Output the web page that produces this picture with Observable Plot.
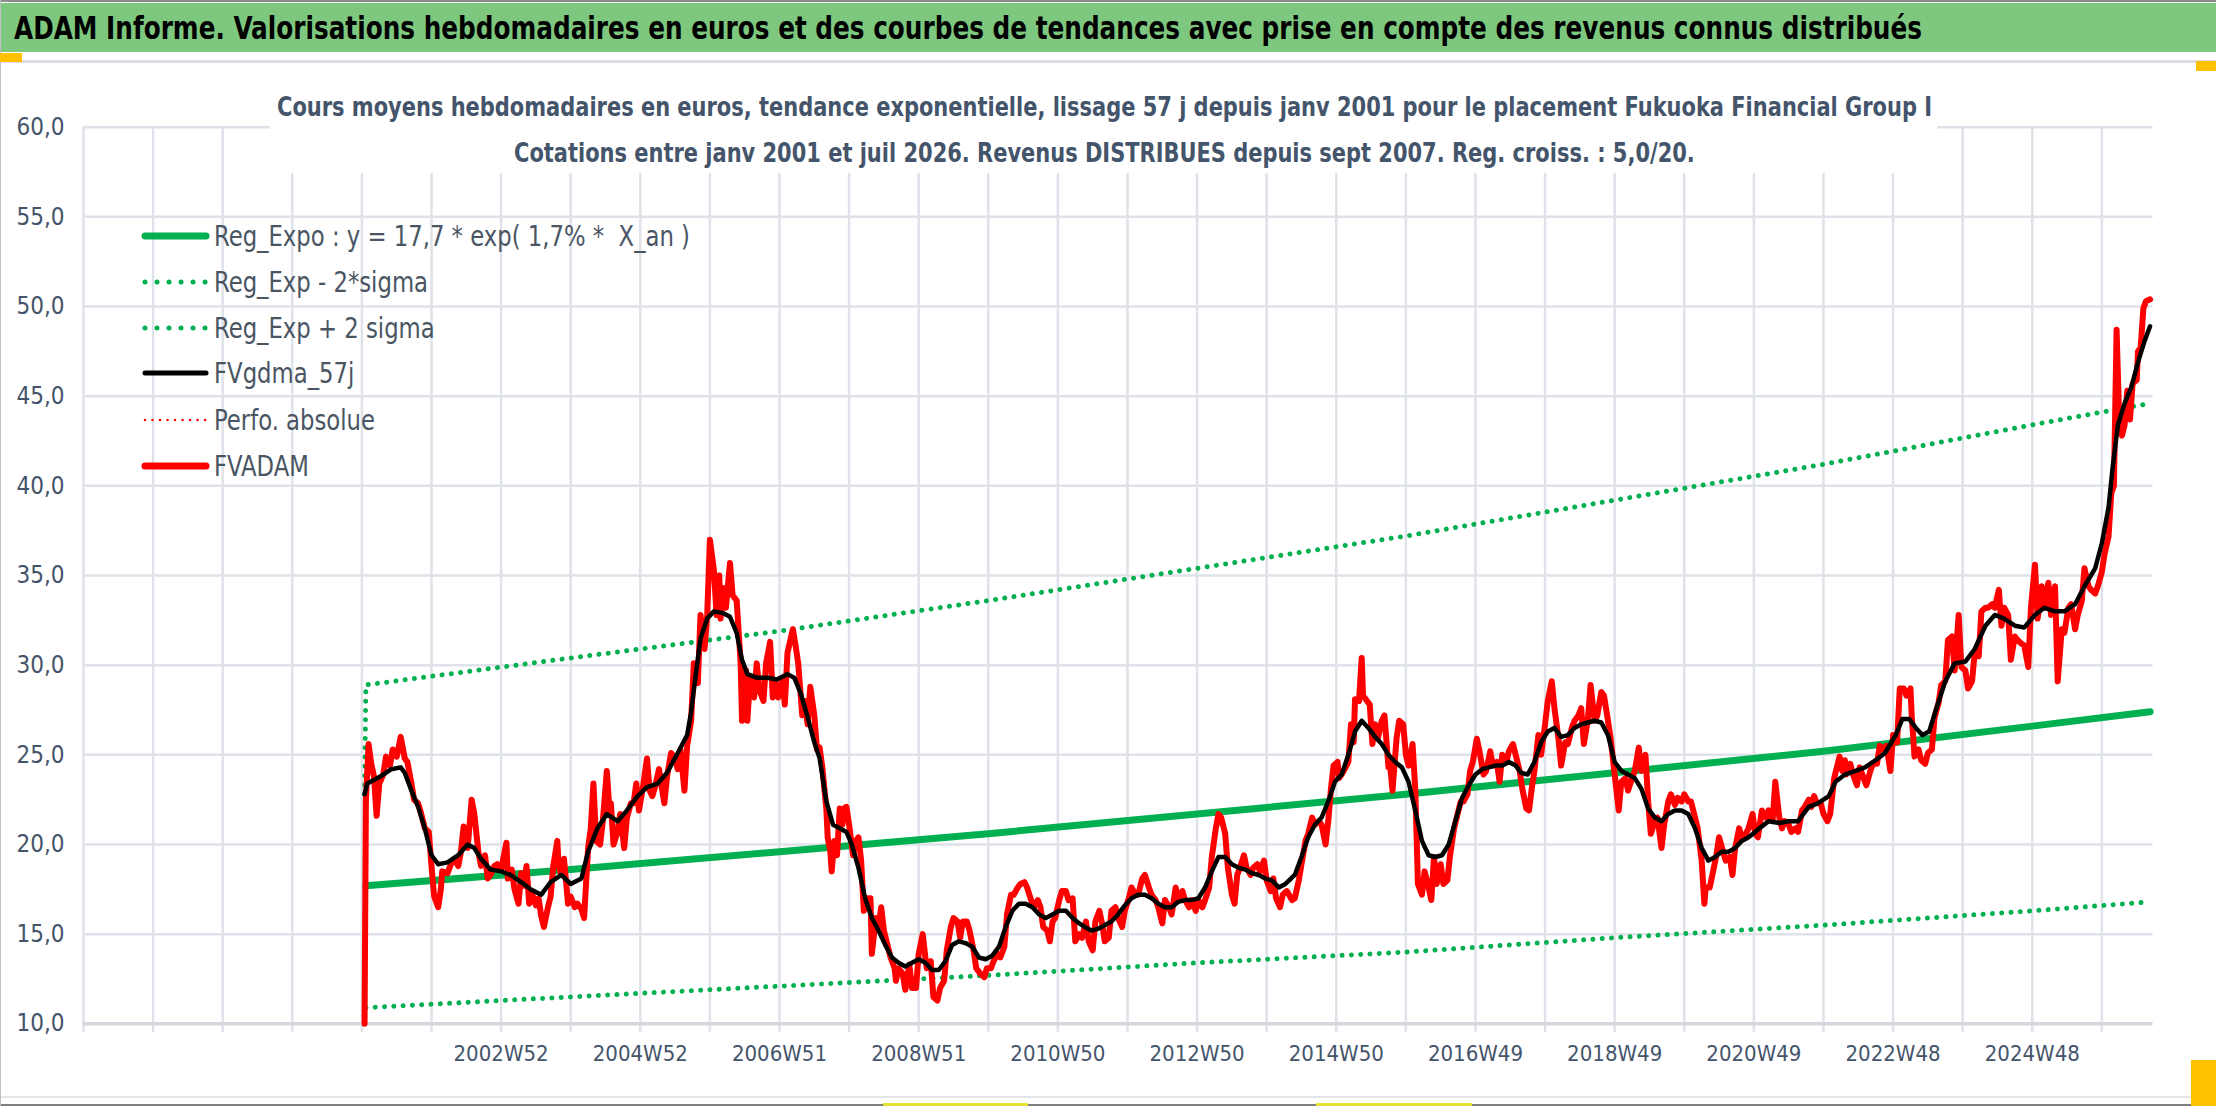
<!DOCTYPE html>
<html><head><meta charset="utf-8">
<script src="https://cdn.jsdelivr.net/npm/d3@7"></script>
<script src="https://cdn.jsdelivr.net/npm/@observablehq/plot@0.6"></script>
<style>
body{margin:0;background:#fff;}
#wrap{position:relative;width:2216px;height:1106px;overflow:hidden;background:#fff;font-family:"DejaVu Sans Condensed","Liberation Sans Narrow","Open Sans",sans-serif;}
.abs{position:absolute;}
.txt{position:absolute;white-space:pre;line-height:1;transform-origin:0 50%;}
#chart{position:absolute;left:0;top:0;z-index:1;}
</style></head>
<body>
<div id="wrap">
  <div class="abs" style="left:0;top:0;width:2216px;height:2px;background:#8c8c8c;z-index:3"></div>
  <div class="abs" style="left:0;top:3px;width:2216px;height:49px;background:#7dc87e;z-index:3"></div>
  <div class="abs" style="left:0;top:60px;width:2216px;height:3px;background:#dcdfe4;z-index:3"></div>
  <div class="abs" style="left:0;top:53px;width:22px;height:9px;background:#ffc000;z-index:4"></div>
  <div class="abs" style="left:2196px;top:61px;width:20px;height:10px;background:#ffc000;z-index:4"></div>
  <div class="abs" style="left:2191px;top:1060px;width:25px;height:46px;background:#ffc000;z-index:4"></div>
  <div class="abs" style="left:0;top:1096px;width:2216px;height:2px;background:#e3e5e9;z-index:3"></div>
  <div class="abs" style="left:883px;top:1103px;width:145px;height:3px;background:#e6e030;z-index:4"></div>
  <div class="abs" style="left:1316px;top:1103px;width:156px;height:3px;background:#e6e030;z-index:4"></div>
  <div class="abs" style="left:0;top:1104px;width:2216px;height:2px;background:#7f7f7f;z-index:3"></div>
  <div class="abs" style="left:0;top:0;width:1px;height:1106px;background:#bfbfbf;z-index:3"></div>
  <div id="title" class="txt" style="left:14px;top:10px;font-weight:bold;font-size:32px;color:#000;z-index:5">ADAM Informe. Valorisations hebdomadaires en euros et des courbes de tendances avec prise en compte des revenus connus distribués</div>
  <div class="abs" style="left:270px;top:80px;width:1667px;height:93px;background:#fff;z-index:2"></div>
  <div id="sub1" class="txt" style="font-weight:bold;font-size:27px;color:#44546a;z-index:5">Cours moyens hebdomadaires en euros, tendance exponentielle, lissage 57 j depuis janv 2001 pour le placement Fukuoka Financial Group I</div>
  <div id="sub2" class="txt" style="font-weight:bold;font-size:27px;color:#44546a;z-index:5">Cotations entre janv 2001 et juil 2026. Revenus DISTRIBUES depuis sept 2007. Reg. croiss. : 5,0/20.</div>
  <div id="legend" class="abs" style="left:0;top:0;z-index:5"></div>
  <div id="chart"></div>
</div>
<script>
// ---------- data ----------
const yTicks = [10, 15, 20, 25, 30, 35, 40, 45, 50, 55, 60];
const xGridWeeks = d3.range(0, 1509, 52);
const xLabelWeeks = [312, 416, 520, 624, 728, 832, 936, 1040, 1144, 1248, 1352, 1456];
const xLabels = ["2002W52","2004W52","2006W51","2008W51","2010W50","2012W50","2014W50","2016W49","2018W49","2020W49","2022W48","2024W48"];

const trendWeeks = [211, 364, 520, 676, 832, 988, 1144, 1300, 1456, 1544];
const regExpo = [17.7, 18.6, 19.6, 20.6, 21.7, 22.8, 24.0, 25.2, 26.6, 27.4];
const regLower = [10.9, 11.5, 12.1, 12.7, 13.4, 14.0, 14.8, 15.5, 16.3, 16.8];
const upperWeeks = [210, 211, 364, 520, 676, 832, 988, 1144, 1300, 1456, 1544];
const regUpper = [22.8, 28.9, 30.4, 31.9, 33.6, 35.4, 37.2, 39.2, 41.2, 43.4, 44.6];

const fvadam = [[210,10.0],[211,22.5],[213,25.6],[215,24.5],[217,23.8],[219,21.6],[221,23.4],[224,23.9],[226,24.9],[229,24.4],[231,25.3],[234,24.9],[237,26.0],[240,24.8],[242,24.6],[245,23.4],[247,22.5],[250,22.3],[252,21.8],[255,20.9],[258,20.7],[260,18.8],[262,17.1],[265,16.5],[267,17.5],[268,18.5],[272,18.4],[275,19.0],[277,19.2],[280,18.8],[282,19.6],[284,21.0],[287,19.8],[288,20.7],[290,22.5],[292,21.7],[295,19.6],[297,18.8],[300,19.4],[302,18.1],[304,18.3],[307,18.8],[309,18.9],[312,18.6],[316,20.1],[317,18.1],[320,18.6],[322,17.5],[325,16.7],[327,18.4],[329,17.7],[331,18.8],[333,16.7],[335,17.3],[338,16.6],[340,17.0],[342,16.0],[344,15.4],[347,16.5],[349,17.1],[351,18.8],[354,20.2],[355,18.8],[357,18.3],[359,19.2],[362,16.7],[364,17.1],[367,16.5],[369,16.7],[372,16.4],[374,15.9],[377,19.8],[379,20.9],[381,23.4],[383,20.2],[386,20.0],[388,21.3],[391,24.1],[393,21.9],[394,22.3],[396,20.0],[399,20.7],[401,21.7],[404,19.8],[406,21.5],[409,22.3],[411,22.3],[413,23.4],[415,21.9],[418,23.2],[421,24.8],[423,23.0],[425,22.7],[427,23.2],[430,24.2],[432,23.2],[434,22.3],[436,23.8],[439,25.1],[442,24.8],[444,24.2],[446,25.3],[449,23.0],[451,25.5],[454,26.9],[456,30.1],[459,29.0],[461,32.8],[464,30.9],[466,32.8],[468,37.0],[471,35.3],[473,32.8],[475,35.0],[476,32.6],[478,34.3],[480,33.2],[483,35.7],[485,33.9],[488,33.6],[491,30.1],[492,26.9],[495,29.7],[496,26.9],[498,29.3],[501,28.2],[503,30.1],[505,28.6],[508,28.0],[510,30.1],[513,31.3],[515,28.2],[517,29.0],[519,28.2],[522,29.2],[524,27.8],[526,30.7],[530,32.0],[532,31.1],[534,30.1],[537,27.2],[539,28.0],[541,26.7],[543,28.8],[546,27.2],[548,25.3],[550,25.4],[552,24.3],[555,22.0],[556,20.4],[558,19.6],[559,18.5],[561,20.2],[563,19.4],[565,22.0],[567,21.1],[568,22.0],[570,22.1],[572,21.1],[575,19.4],[577,20.2],[579,20.4],[581,19.1],[583,16.3],[586,17.0],[588,17.0],[589,13.9],[592,15.9],[594,15.4],[596,16.5],[598,15.2],[601,14.3],[603,13.7],[606,13.1],[607,12.4],[609,13.1],[612,12.8],[614,11.9],[617,13.3],[619,12.0],[622,12.0],[624,13.9],[627,15.0],[629,13.7],[630,13.1],[633,13.5],[635,11.5],[638,11.3],[640,12.0],[643,12.4],[645,14.1],[648,15.4],[650,15.9],[653,15.7],[655,14.8],[657,15.7],[660,15.7],[662,15.2],[665,14.1],[667,13.1],[670,12.8],[673,12.6],[675,13.1],[678,13.1],[680,13.5],[683,13.9],[685,13.7],[688,14.3],[690,16.1],[693,17.2],[695,17.2],[698,17.6],[700,17.8],[703,17.9],[705,17.6],[708,16.9],[710,16.5],[713,16.9],[715,16.5],[717,15.4],[720,15.2],[722,14.6],[724,15.7],[726,15.9],[729,16.9],[731,17.4],[734,17.4],[736,16.9],[739,17.0],[741,14.6],[744,15.0],[746,14.8],[749,15.7],[751,14.6],[754,14.1],[756,15.7],[759,16.3],[761,15.6],[763,14.6],[766,14.8],[768,16.3],[771,16.5],[773,15.9],[776,15.4],[778,16.3],[781,17.0],[783,17.6],[786,17.2],[788,17.2],[791,18.1],[793,18.3],[796,17.6],[798,17.2],[801,16.9],[803,16.5],[806,15.6],[808,16.9],[811,16.5],[813,16.1],[816,17.6],[818,16.9],[821,17.4],[823,16.9],[826,16.5],[828,16.9],[831,16.3],[833,16.9],[836,16.5],[838,16.9],[841,17.6],[843,19.3],[846,20.9],[848,21.7],[850,21.5],[853,20.6],[855,18.7],[858,17.2],[860,16.7],[862,18.3],[864,18.7],[867,19.4],[869,18.7],[872,18.3],[874,18.7],[877,18.9],[879,18.5],[882,19.1],[884,18.0],[887,17.4],[889,18.1],[891,17.0],[894,16.5],[896,17.2],[899,17.4],[903,16.9],[905,17.0],[908,18.0],[910,18.9],[913,20.2],[915,20.6],[918,21.5],[920,21.1],[923,21.3],[925,21.1],[928,20.0],[930,21.3],[932,23.1],[934,24.4],[937,24.6],[938,23.7],[940,23.9],[943,24.3],[945,24.6],[947,26.7],[949,25.7],[950,28.1],[953,28.0],[955,30.4],[956,28.3],[958,28.1],[961,27.8],[963,25.6],[965,26.7],[967,25.9],[970,26.9],[972,27.2],[975,24.3],[976,24.6],[978,23.0],[981,25.9],[983,26.9],[986,26.7],[988,25.0],[990,24.4],[993,25.6],[995,23.1],[997,17.8],[1000,17.2],[1002,18.5],[1005,17.6],[1007,16.9],[1009,19.3],[1011,17.8],[1014,18.9],[1016,17.8],[1019,18.0],[1021,19.4],[1024,20.9],[1026,21.5],[1029,22.4],[1031,22.4],[1034,22.8],[1036,24.1],[1038,24.6],[1041,25.9],[1043,25.2],[1046,23.9],[1048,24.1],[1051,25.2],[1053,24.4],[1056,24.6],[1058,23.5],[1060,25.0],[1063,24.6],[1065,25.2],[1068,25.6],[1070,25.0],[1073,24.1],[1075,23.1],[1078,22.0],[1080,21.9],[1082,23.1],[1084,24.1],[1087,26.1],[1089,25.0],[1092,26.7],[1094,28.0],[1097,29.1],[1099,27.6],[1102,25.9],[1104,24.4],[1107,25.7],[1109,25.6],[1112,26.5],[1114,26.9],[1117,27.2],[1119,27.6],[1121,25.6],[1124,27.0],[1126,28.9],[1129,26.9],[1131,27.2],[1134,28.5],[1136,28.3],[1139,26.9],[1141,25.9],[1144,23.9],[1147,21.9],[1149,23.5],[1152,23.7],[1154,23.0],[1157,23.7],[1159,24.1],[1162,25.4],[1164,24.1],[1167,25.0],[1169,22.4],[1171,20.6],[1174,21.3],[1176,21.5],[1179,19.8],[1181,21.1],[1184,22.4],[1186,22.8],[1189,22.2],[1191,22.6],[1194,22.4],[1196,22.8],[1199,22.4],[1201,22.4],[1204,21.5],[1206,20.9],[1209,19.1],[1211,16.7],[1212,17.6],[1215,17.6],[1217,18.3],[1220,19.4],[1222,20.4],[1225,19.6],[1227,19.1],[1230,19.3],[1232,18.3],[1234,19.8],[1237,20.9],[1239,20.4],[1242,20.6],[1244,20.9],[1247,21.7],[1249,20.6],[1251,20.4],[1254,21.9],[1257,21.5],[1259,21.9],[1262,21.3],[1264,23.5],[1267,21.5],[1269,20.9],[1271,21.3],[1274,21.1],[1276,20.7],[1279,20.9],[1281,20.7],[1284,21.9],[1286,22.1],[1289,22.5],[1291,22.1],[1293,22.7],[1295,22.3],[1298,22.3],[1300,21.7],[1303,21.3],[1305,21.7],[1308,23.7],[1310,24.3],[1312,24.9],[1314,24.1],[1316,24.7],[1317,23.9],[1320,24.5],[1322,23.9],[1325,23.3],[1327,24.3],[1330,23.7],[1332,23.3],[1335,24.1],[1337,24.5],[1340,24.5],[1342,25.5],[1345,25.3],[1347,25.5],[1350,24.1],[1352,26.1],[1355,25.7],[1357,28.7],[1360,28.7],[1362,28.3],[1365,28.7],[1366,27.1],[1368,24.9],[1371,25.3],[1373,24.7],[1376,24.5],[1378,25.1],[1381,25.3],[1383,27.1],[1386,27.9],[1388,28.9],[1391,29.1],[1393,31.4],[1396,31.6],[1398,29.7],[1401,32.8],[1403,29.9],[1406,29.7],[1408,28.7],[1411,29.1],[1413,30.7],[1416,30.5],[1418,33.0],[1421,33.2],[1423,33.2],[1426,33.4],[1428,33.2],[1431,34.2],[1433,32.2],[1435,33.2],[1438,32.8],[1440,30.3],[1443,31.6],[1445,31.4],[1448,31.2],[1450,31.1],[1453,29.9],[1455,33.2],[1458,35.6],[1460,32.6],[1463,34.4],[1465,33.2],[1468,34.6],[1470,32.8],[1473,34.4],[1475,29.1],[1478,32.0],[1480,31.8],[1483,33.2],[1485,33.4],[1488,32.0],[1490,32.8],[1493,33.6],[1495,35.4],[1498,34.4],[1500,34.2],[1503,34.0],[1505,34.4],[1508,35.2],[1510,36.2],[1513,37.2],[1515,39.6],[1517,40.0],[1519,48.7],[1521,43.6],[1523,42.8],[1525,43.4],[1527,45.3],[1529,43.7],[1531,45.7],[1534,45.9],[1535,47.5],[1537,47.7],[1539,49.9],[1541,50.3],[1544,50.4]];

const fvgdma57 = [[210,22.8],[212,23.4],[217,23.6],[222,23.8],[230,24.2],[237,24.3],[240,24.0],[245,23.0],[250,22.1],[255,20.9],[260,19.4],[265,18.9],[272,19.0],[280,19.4],[287,20.0],[292,19.8],[297,19.2],[304,18.6],[312,18.5],[319,18.3],[327,17.9],[334,17.5],[342,17.2],[349,17.9],[357,18.3],[364,17.8],[372,18.1],[377,19.6],[384,20.9],[391,21.7],[399,21.3],[406,21.9],[414,22.7],[421,23.2],[429,23.4],[436,24.0],[444,25.1],[451,26.1],[454,27.4],[457,29.2],[461,31.5],[466,32.6],[471,33.0],[478,32.9],[483,32.7],[488,31.8],[492,30.3],[496,29.5],[503,29.3],[511,29.3],[518,29.2],[526,29.5],[531,29.3],[536,28.4],[541,27.1],[546,25.7],[550,24.8],[555,22.4],[560,21.1],[565,20.9],[570,20.7],[574,20.0],[579,18.7],[584,17.0],[589,15.9],[594,15.2],[599,14.4],[604,13.7],[609,13.4],[614,13.2],[619,13.4],[624,13.6],[629,13.4],[634,13.0],[639,13.0],[644,13.5],[649,14.4],[654,14.6],[659,14.5],[664,14.3],[669,13.7],[674,13.6],[679,13.8],[684,14.3],[689,15.4],[694,16.3],[699,16.7],[704,16.7],[709,16.5],[714,16.1],[719,15.9],[724,16.1],[729,16.3],[734,16.3],[739,15.9],[744,15.6],[748,15.4],[753,15.2],[758,15.3],[763,15.5],[768,15.7],[773,16.1],[778,16.6],[783,17.0],[788,17.2],[793,17.2],[798,17.0],[803,16.7],[808,16.5],[813,16.5],[818,16.8],[823,16.9],[828,16.9],[833,17.0],[838,17.6],[843,18.5],[848,19.3],[853,19.3],[858,18.9],[863,18.7],[868,18.6],[873,18.4],[878,18.3],[883,18.1],[888,18.0],[893,17.6],[898,17.8],[905,18.3],[910,19.3],[915,20.4],[920,21.1],[925,21.5],[930,22.4],[935,23.5],[940,23.9],[945,25.0],[950,26.3],[955,26.9],[960,26.5],[965,26.0],[970,25.6],[975,25.0],[980,24.6],[985,24.3],[990,23.5],[995,21.9],[1000,20.2],[1005,19.4],[1010,19.3],[1015,19.4],[1020,20.0],[1025,21.3],[1030,22.6],[1035,23.3],[1040,23.9],[1045,24.2],[1050,24.3],[1055,24.4],[1060,24.4],[1065,24.6],[1070,24.4],[1074,24.0],[1079,23.9],[1084,24.6],[1089,25.7],[1094,26.3],[1099,26.5],[1104,26.0],[1109,26.1],[1114,26.5],[1119,26.7],[1124,26.8],[1129,26.9],[1134,26.8],[1139,26.1],[1144,24.6],[1149,24.1],[1154,23.9],[1159,23.7],[1164,23.1],[1169,22.0],[1174,21.5],[1179,21.3],[1184,21.7],[1189,21.9],[1194,21.9],[1199,21.7],[1204,20.9],[1209,19.8],[1214,19.1],[1219,19.3],[1224,19.6],[1229,19.6],[1234,19.8],[1239,20.2],[1244,20.4],[1249,20.7],[1252,20.9],[1259,21.3],[1267,21.2],[1274,21.3],[1281,21.3],[1289,22.1],[1296,22.3],[1304,22.7],[1309,23.5],[1316,23.9],[1324,24.1],[1331,24.3],[1339,24.7],[1346,25.1],[1354,26.1],[1359,27.0],[1364,27.0],[1369,26.5],[1374,26.1],[1379,26.3],[1384,27.5],[1391,29.1],[1398,30.1],[1406,30.2],[1413,30.9],[1421,32.2],[1428,32.8],[1435,32.6],[1443,32.2],[1450,32.1],[1458,32.8],[1465,33.2],[1473,33.0],[1480,33.0],[1488,33.4],[1495,34.4],[1503,35.4],[1508,36.8],[1513,38.8],[1516,41.0],[1520,43.4],[1525,44.6],[1530,45.5],[1535,46.9],[1540,48.1],[1544,48.9]];

const legendItems = [
  {label: "Reg_Expo : y = 17,7 * exp( 1,7% *  X_an )", color: "#00b050", width: 7, dash: null},
  {label: "Reg_Exp - 2*sigma", color: "#00b050", width: 5, dash: "0.01 12"},
  {label: "Reg_Exp + 2 sigma", color: "#00b050", width: 5, dash: "0.01 12"},
  {label: "FVgdma_57j", color: "#000000", width: 5, dash: null},
  {label: "Perfo. absolue", color: "#ff0000", width: 2.5, dash: "0.01 7.5"},
  {label: "FVADAM", color: "#ff0000", width: 7, dash: null}
];

// ---------- layout ----------
const FONT = '"DejaVu Sans Condensed","Liberation Sans Narrow","Open Sans",sans-serif';
const TEXT = "#44546a";
const GRID = "#dfe2e8";
const fmtY = d => d.toFixed(1).replace(".", ",");
const labelOf = new Map(xLabelWeeks.map((w, i) => [w, xLabels[i]]));

const chart = Plot.plot({
  width: 2216, height: 1106,
  marginLeft: 83, marginRight: 63.5, marginTop: 126.7, marginBottom: 82.7,
  style: {background: "transparent", fontFamily: FONT, fontSize: "23px", color: TEXT, overflow: "visible"},
  x: {domain: [0, 1546.2], axis: null},
  y: {domain: [10, 60], axis: null},
  marks: [
    Plot.ruleY(yTicks.filter(d => d > 10), {y: d => d, stroke: GRID, strokeWidth: 2.5, strokeOpacity: 1}),
    Plot.ruleX(xGridWeeks, {x: d => d, stroke: GRID, strokeWidth: 2.5, strokeOpacity: 1, insetBottom: -9}),
    Plot.ruleY([10], {y: d => d, stroke: "#d4d7dd", strokeWidth: 3.5, strokeOpacity: 1}),
    Plot.axisY(yTicks, {tickFormat: fmtY, tickSize: 0, tickPadding: 19, fontSize: 24, fill: TEXT, label: null}),
    Plot.axisX(xLabelWeeks, {tickFormat: d => labelOf.get(d), tickSize: 0, tickPadding: 22, fontSize: 22, fill: TEXT, label: null}),
    Plot.line(trendWeeks, {x: d => d, y: (d, i) => regLower[i], stroke: "#00b050", strokeWidth: 5, strokeDasharray: "0.01 9.3", strokeLinecap: "round"}),
    Plot.line(upperWeeks, {x: d => d, y: (d, i) => regUpper[i], stroke: "#00b050", strokeWidth: 5, strokeDasharray: "0.01 9.3", strokeLinecap: "round"}),
    Plot.line(trendWeeks, {x: d => d, y: (d, i) => regExpo[i], stroke: "#00b050", strokeWidth: 7}),
    Plot.line(fvadam, {x: d => d[0], y: d => d[1], stroke: "#ff0000", strokeWidth: 6, strokeLinejoin: "round"}),
    Plot.line(fvgdma57, {x: d => d[0], y: d => d[1], stroke: "#000000", strokeWidth: 4.5, strokeLinejoin: "round"})
  ]
});
document.getElementById("chart").appendChild(chart);

// legend (HTML)
const legend = document.getElementById("legend");
const rowY = [236, 282, 328, 373, 420, 466];
const legendLabels = [];
legendItems.forEach((it, i) => {
  const s = document.createElementNS("http://www.w3.org/2000/svg", "svg");
  s.setAttribute("width", 70); s.setAttribute("height", 14);
  s.style.position = "absolute"; s.style.left = "140px"; s.style.top = (rowY[i] - 7) + "px";
  const l = document.createElementNS("http://www.w3.org/2000/svg", "line");
  l.setAttribute("x1", 5); l.setAttribute("x2", 66); l.setAttribute("y1", 7); l.setAttribute("y2", 7);
  l.setAttribute("stroke", it.color); l.setAttribute("stroke-width", it.width);
  l.setAttribute("stroke-linecap", "round");
  if (it.dash) l.setAttribute("stroke-dasharray", it.dash);
  s.appendChild(l); legend.appendChild(s);
  const t = document.createElement("div");
  t.className = "txt"; t.textContent = it.label;
  t.style.left = "214px"; t.style.fontSize = "28px"; t.style.color = "#4a5563";
  legend.appendChild(t); legendLabels.push(t);
});

// squeeze text horizontally to the reference widths while keeping its height
function squeeze(el, target) {
  const w = el.getBoundingClientRect().width;
  const k = target / w;
  el.style.transform = "scaleX(" + k + ")";
  return k;
}
function placeY(el, cy) {
  const h = el.getBoundingClientRect().height;
  el.style.top = (cy - h / 2) + "px";
}
const title = document.getElementById("title");
squeeze(title, 1908); placeY(title, 28);
const sub1 = document.getElementById("sub1"), sub2 = document.getElementById("sub2");
const k1 = squeeze(sub1, 1655);
const w2 = sub2.getBoundingClientRect().width;
sub2.style.transform = "scaleX(" + k1 + ")";
sub1.style.left = (1104 - 1655 / 2) + "px";
sub2.style.left = (1104 - w2 * k1 / 2) + "px";
placeY(sub1, 106); placeY(sub2, 152);
const kl = squeeze(legendLabels[0], 476);
legendLabels.forEach((t, i) => { t.style.transform = "scaleX(" + kl + ")"; placeY(t, rowY[i] + 1); });
</script>
</body></html>
